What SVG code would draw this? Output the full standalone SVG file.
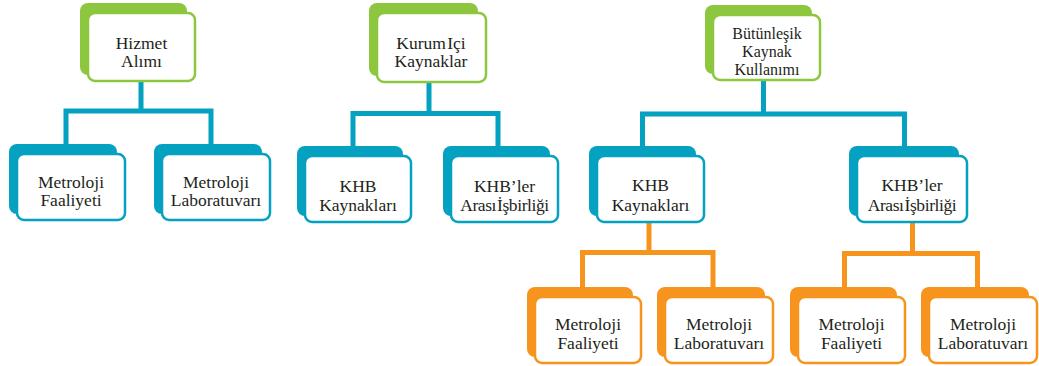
<svg xmlns="http://www.w3.org/2000/svg" width="1039" height="366" viewBox="0 0 1039 366">
<style>
.bg{fill:#ffffff}
.gb{fill:#8dc63f}.gw{fill:#fff;stroke:#8dc63f;stroke-width:2.5}
.bb{fill:#04a1c0}.bw{fill:#fff;stroke:#04a1c0;stroke-width:2.5}
.ob{fill:#f7941d}.ow{fill:#fff;stroke:#f7941d;stroke-width:2.5}
.cb{fill:none;stroke:#04a1c0;stroke-width:5;stroke-linejoin:miter}
.co{fill:none;stroke:#f7941d;stroke-width:5;stroke-linejoin:miter}
.t{font-family:"Liberation Serif",serif;font-size:17.5px;fill:#231f20;text-anchor:middle}
.s{font-size:16px}
.n{letter-spacing:-0.4px;word-spacing:-3px}
</style>
<rect class="bg" x="0" y="0" width="1039" height="366"/>
<g id="connectors">
<path class="cb" d="M141,81V111M66,145V111H211V145"/>
<path class="cb" d="M429,82V113.5M353,146V113.5H498V146"/>
<path class="cb" d="M763.5,80V114M642.5,146V114H904.5V146"/>
<path class="co" d="M649,222V252.5M582.5,288V252.5H713V288"/>
<path class="co" d="M912.5,222V253.5M844.5,288V253.5H977.5V288"/>
</g>
<g id="n-hizmet">
<rect class="gb" x="80" y="3" width="107" height="72" rx="8"/>
<rect class="gw" x="88" y="13" width="107" height="68" rx="7"/>
<text class="t" x="141.5" y="49">Hizmet</text><text class="t" x="141.5" y="67">Alımı</text>
</g>
<g id="n-kurum">
<rect class="gb" x="369" y="3" width="109" height="73" rx="8"/>
<rect class="gw" x="377" y="13" width="109" height="69" rx="7"/>
<text class="t" x="431" y="49" style="word-spacing:-3px">Kurum Içi</text><text class="t" x="431" y="67">Kaynaklar</text>
</g>
<g id="n-butunlesik">
<rect class="gb" x="705" y="5" width="107" height="69" rx="8"/>
<rect class="gw" x="713" y="15" width="107" height="65" rx="7"/>
<text class="t s" x="767" y="38.5">Bütünleşik</text><text class="t s" x="767" y="56.5">Kaynak</text><text class="t s" x="767" y="74.5">Kullanımı</text>
</g>
<g id="n-mf1">
<rect class="bb" x="9" y="144" width="108" height="70" rx="8"/>
<rect class="bw" x="17" y="154" width="108" height="66" rx="7"/>
<text class="t" x="71" y="188">Metroloji</text><text class="t" x="71" y="206">Faaliyeti</text>
</g>
<g id="n-ml1">
<rect class="bb" x="154" y="144" width="108" height="70" rx="8"/>
<rect class="bw" x="162" y="154" width="108" height="66" rx="7"/>
<text class="t" x="216" y="188">Metroloji</text><text class="t" x="216" y="206">Laboratuvarı</text>
</g>
<g id="n-khb1">
<rect class="bb" x="297" y="146" width="106" height="70" rx="8"/>
<rect class="bw" x="305" y="156" width="106" height="66" rx="7"/>
<text class="t" x="358" y="191.5">KHB</text><text class="t" x="358" y="211">Kaynakları</text>
</g>
<g id="n-isb1">
<rect class="bb" x="443" y="146" width="107" height="70" rx="8"/>
<rect class="bw" x="451" y="156" width="107" height="66" rx="7"/>
<text class="t" x="504.5" y="191.5">KHB’ler</text><text class="t n" x="504.5" y="211">Arası İşbirliği</text>
</g>
<g id="n-khb2">
<rect class="bb" x="589" y="146" width="107" height="70" rx="8"/>
<rect class="bw" x="597" y="156" width="107" height="66" rx="7"/>
<text class="t" x="650.5" y="191">KHB</text><text class="t" x="650.5" y="211">Kaynakları</text>
</g>
<g id="n-isb2">
<rect class="bb" x="849" y="146" width="110" height="70" rx="8"/>
<rect class="bw" x="857" y="156" width="110" height="66" rx="7"/>
<text class="t" x="912" y="191">KHB’ler</text><text class="t n" x="912" y="210.5">Arası İşbirliği</text>
</g>
<g id="n-mf2">
<rect class="ob" x="527" y="287" width="106" height="70" rx="8"/>
<rect class="ow" x="535" y="297" width="106" height="66" rx="7"/>
<text class="t" x="588" y="330">Metroloji</text><text class="t" x="588" y="348.5">Faaliyeti</text>
</g>
<g id="n-ml2">
<rect class="ob" x="657" y="287" width="108" height="70" rx="8"/>
<rect class="ow" x="665" y="297" width="108" height="66" rx="7"/>
<text class="t" x="719" y="330">Metroloji</text><text class="t" x="719" y="348.5">Laboratuvarı</text>
</g>
<g id="n-mf3">
<rect class="ob" x="790" y="287" width="107" height="70" rx="8"/>
<rect class="ow" x="798" y="297" width="107" height="66" rx="7"/>
<text class="t" x="851.5" y="330">Metroloji</text><text class="t" x="851.5" y="348.5">Faaliyeti</text>
</g>
<g id="n-ml3">
<rect class="ob" x="921" y="287" width="108" height="70" rx="8"/>
<rect class="ow" x="929" y="297" width="108" height="66" rx="7"/>
<text class="t" x="983" y="330">Metroloji</text><text class="t" x="983" y="348.5">Laboratuvarı</text>
</g>
</svg>
